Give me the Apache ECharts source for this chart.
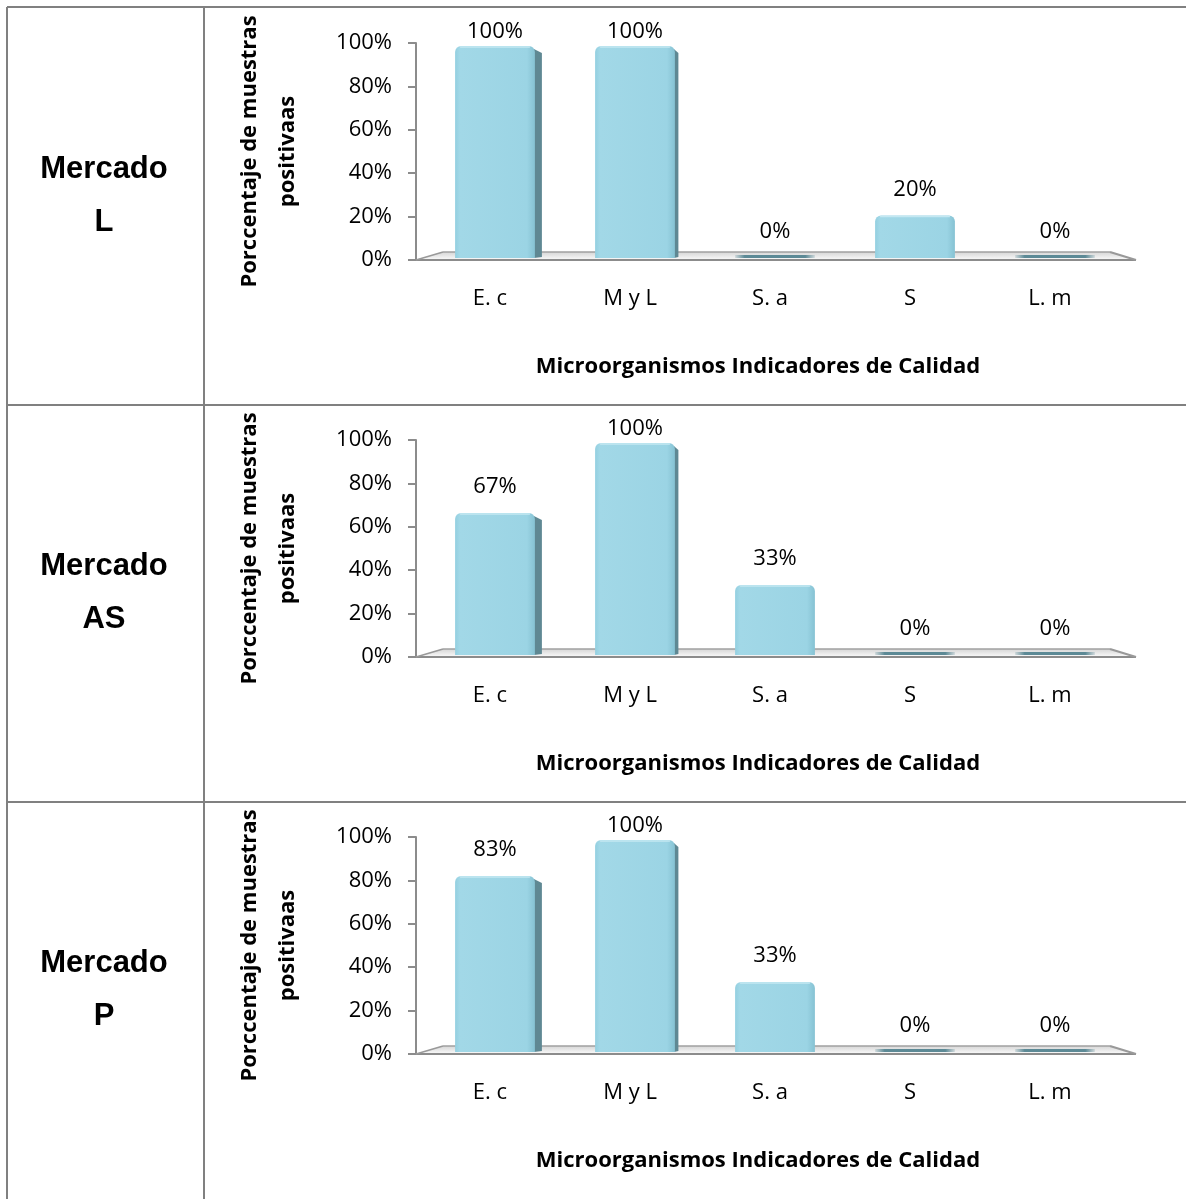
<!DOCTYPE html>
<html>
<head>
<meta charset="utf-8">
<script src="https://cdn.jsdelivr.net/npm/echarts@6/dist/echarts.min.js"></script>
<style>
html,body{margin:0;padding:0;background:#fff;}
#chart{width:1186px;height:1199px;}
</style>
</head>
<body>
<div id="chart"></div>
<script>
const categories = ['E. c', 'M y L', 'S. a', 'S', 'L. m'];
const markets = ['Mercado\nL', 'Mercado\nAS', 'Mercado\nP'];
const valuesL = [1.00, 1.00, 0.00, 0.20, 0.00];
const valuesAS = [0.67, 1.00, 0.33, 0.00, 0.00];
const valuesP = [0.83, 1.00, 0.33, 0.00, 0.00];
const yAxisTitle = 'Porccentaje de muestras\npositivaas';
const xAxisTitle = 'Microorganismos Indicadores de Calidad';

const seriesValues = [valuesL, valuesAS, valuesP];
const FONT = '"Open Sans", "Noto Sans", sans-serif';
const ROW = 397;

function renderItem(params, api) {
  const idx = api.value(0), v = api.value(1);
  const n = categories.length;
  const base = api.coord([idx, 0]);
  const full = api.coord([idx, 1]);
  const mid = api.coord([(n - 1) / 2, 0]);
  const band = api.size([1, 0])[0];
  const cx = base[0];
  const half = band * 0.285;
  const span = base[1] - full[1];
  const y0 = base[1] - 2;
  const yTop = y0 - span * 0.977 * v;
  const children = [];
  // floor segment
  const depth = 8;
  const left = cx - band / 2, right = cx + band / 2;
  let fl = left, flb = left, fr = right, frb = right;
  if (idx === 0) { fl = left - 9; flb = left + 18; }
  if (idx === n - 1) { fr = right + 11; frb = right - 15; }
  children.push({
    type: 'polygon', z2: 1,
    shape: { points: [[fl, base[1]], [fr, base[1]], [frb, base[1] - depth], [flb, base[1] - depth]] },
    style: { fill: new echarts.graphic.LinearGradient(0, 0, 0, 1, [{offset: 0, color: '#d6d6d6'}, {offset: 1, color: '#fbfbfb'}]) }
  });
  children.push({ type: 'line', z2: 2, shape: { x1: flb, y1: base[1] - depth, x2: frb, y2: base[1] - depth }, style: { stroke: '#a0a0a0', lineWidth: 1.5 } });
  children.push({ type: 'line', z2: 2, shape: { x1: fl, y1: base[1], x2: fr, y2: base[1] }, style: { stroke: '#8c8c8c', lineWidth: 2 } });
  if (idx === 0) children.push({ type: 'line', z2: 2, shape: { x1: fl, y1: base[1], x2: flb, y2: base[1] - depth }, style: { stroke: '#999', lineWidth: 1.5 } });
  if (idx === n - 1) children.push({ type: 'line', z2: 2, shape: { x1: fr, y1: base[1], x2: frb, y2: base[1] - depth }, style: { stroke: '#999', lineWidth: 2 } });

  if (v > 0) {
    const s = Math.max(0, (mid[0] - cx) / 40);
    if (s > 0.5) {
      children.push({
        type: 'polygon', z2: 10,
        shape: { points: [[cx + half - 1, yTop + 3], [cx + half + s, yTop + 7], [cx + half + s, y0 - 1], [cx + half - 1, y0]] },
        style: { fill: '#5f8893' }
      });
    }
    children.push({
      type: 'rect', z2: 11,
      shape: { x: cx - half, y: yTop, width: half * 2, height: y0 - yTop, r: [6, 6, 0, 0] },
      style: {
        fill: new echarts.graphic.LinearGradient(0, 0, 1, 0, [
          {offset: 0, color: '#93cfe0'}, {offset: 0.06, color: '#a2d8e7'},
          {offset: 0.9, color: '#9bd4e4'}, {offset: 1, color: '#86c2d3'}
        ])
      }
    });
    children.push({ type: 'line', z2: 12, shape: { x1: cx - half + 5, y1: yTop + 1, x2: cx + half - 5, y2: yTop + 1 }, style: { stroke: '#c4e8f2', lineWidth: 1.5 } });
  } else {
    children.push({
      type: 'rect', z2: 10,
      shape: { x: cx - half, y: base[1] - 5, width: half * 2, height: 3 },
      style: {
        fill: new echarts.graphic.LinearGradient(0, 0, 1, 0, [
          {offset: 0, color: 'rgba(93,138,150,0.2)'}, {offset: 0.12, color: '#5d8a96'},
          {offset: 0.88, color: '#5d8a96'}, {offset: 1, color: 'rgba(93,138,150,0.2)'}
        ])
      }
    });
  }
  const labelY = Math.max(yTop - 26, full[1] - 11);
  children.push({
    type: 'text', z2: 20,
    style: {
      x: cx, y: labelY, text: Math.round(v * 100) + '%',
      fill: '#000', fontSize: 22, fontFamily: FONT,
      align: 'center', verticalAlign: 'middle'
    }
  });
  return { type: 'group', children: children };
}

const grids = [], xAxes = [], yAxes = [], series = [];
seriesValues.forEach((vals, i) => {
  grids.push({ left: 425, width: 700, top: 43 + ROW * i, height: 217 });
  xAxes.push({
    type: 'category', gridIndex: i, data: categories,
    axisLine: { show: false }, axisTick: { show: false },
    axisLabel: { margin: 28, fontSize: 22, fontFamily: FONT, color: '#000', padding: [0, 10, 0, 0] },
    name: xAxisTitle, nameLocation: 'middle', nameGap: 96,
    nameTextStyle: { fontWeight: 'bold', fontSize: 22, fontFamily: FONT, color: '#000', padding: [0, 34, 0, 0] }
  });
  yAxes.push({
    type: 'value', gridIndex: i, min: 0, max: 1, interval: 0.2, offset: 9,
    axisLine: { show: true, lineStyle: { color: '#8c8c8c', width: 2 } },
    axisTick: { show: true, length: 8, lineStyle: { color: '#8c8c8c', width: 2 } },
    splitLine: { show: false },
    axisLabel: { margin: 24, fontSize: 22, fontFamily: FONT, color: '#000', formatter: v => Math.round(v * 100) + '%' },
    name: yAxisTitle, nameLocation: 'middle', nameRotate: 90, nameGap: 109,
    nameTextStyle: { fontWeight: 'bold', fontSize: 22, lineHeight: 38, fontFamily: FONT, color: '#000', align: 'center' }
  });
  series.push({
    type: 'custom', xAxisIndex: i, yAxisIndex: i,
    data: vals.map((v, k) => [k, v]),
    encode: { x: 0, y: 1 },
    renderItem: renderItem, silent: true
  });
});

const lineStyle = { stroke: '#808080', lineWidth: 2 };
const graphics = [
  { type: 'line', shape: { x1: 7, y1: 7, x2: 1186, y2: 7 }, style: lineStyle },
  { type: 'line', shape: { x1: 7, y1: 7, x2: 7, y2: 1199 }, style: lineStyle },
  { type: 'line', shape: { x1: 204, y1: 7, x2: 204, y2: 1199 }, style: lineStyle },
  { type: 'line', shape: { x1: 7, y1: 7 + ROW + 1, x2: 1186, y2: 7 + ROW + 1 }, style: lineStyle },
  { type: 'line', shape: { x1: 7, y1: 7 + ROW * 2 + 1, x2: 1186, y2: 7 + ROW * 2 + 1 }, style: lineStyle }
];
markets.forEach((m, i) => {
  graphics.push({
    type: 'text', x: 104, y: 196 + ROW * i,
    style: {
      text: m, fill: '#000', fontSize: 31, fontWeight: 'bold',
      fontFamily: '"Liberation Sans", Arial, sans-serif', lineHeight: 53,
      align: 'center', verticalAlign: 'middle'
    }
  });
});

const chart = echarts.init(document.getElementById('chart'), null, { renderer: 'canvas' });
chart.setOption({
  animation: false,
  backgroundColor: '#fff',
  grid: grids, xAxis: xAxes, yAxis: yAxes, series: series,
  graphic: graphics
});
</script>
</body>
</html>
